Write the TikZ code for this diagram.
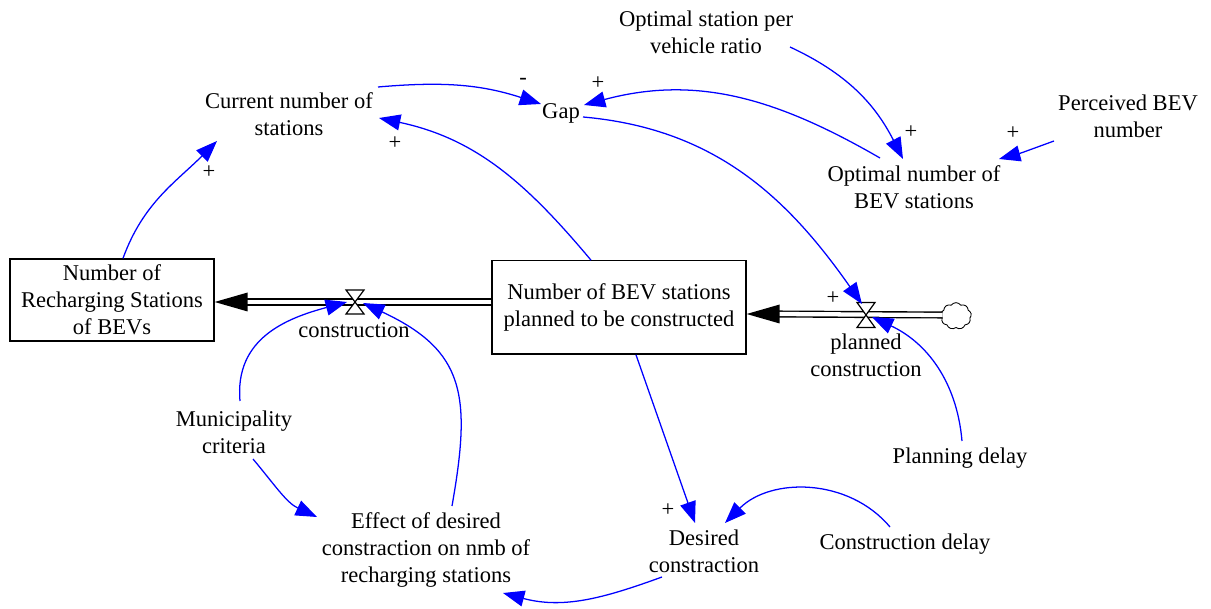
\documentclass[tikz,border=0pt]{standalone}
\usepackage{fontspec}
\setmainfont{Liberation Serif}
\usetikzlibrary{arrows.meta,shapes.symbols}

\tikzset{
  txt/.style={align=center, inner sep=0pt, font=\fontsize{16.9}{20.3}\selectfont},
  stock/.style={draw, line width=1pt, align=center, inner sep=0pt,
                font=\fontsize{16.9}{20.3}\selectfont},
  sgn/.style={inner sep=0pt, font=\fontsize{16.9}{20.3}\selectfont},
  link/.style={draw=blue, line width=0.95pt,
               -{Triangle[length=16pt,width=12pt]}},
  pipe/.style={draw, line width=1.05pt, double, double distance=3.2pt},
  valveshape/.style={draw, fill=white, line width=0.9pt, line join=miter},
  source/.style={draw, cloud, cloud puffs=9, cloud puff arc=110, aspect=1.15,
                 line width=0.65pt, minimum width=23pt, minimum height=20pt,
                 inner sep=0pt}
}

\begin{document}
\begin{tikzpicture}[x=0.75pt, y=0.75pt]
\useasboundingbox (0,0) rectangle (1211,-609);

% auxiliaries and stocks
\node[txt] (osv)  at (706,-32)   {Optimal station per\\vehicle ratio};
\node[txt] (cur)  at (289,-114)  {Current number of\\stations};
\node[txt] (gap)  at (561,-113)  {Gap};
\node[txt] (pbev) at (1128,-116) {Perceived BEV\\number};
\node[txt] (onb)  at (914,-187)  {Optimal number of\\BEV stations};
\node[stock, minimum width=153pt, minimum height=61.5pt] (nrs) at (112,-300)
  {Number of\\Recharging Stations\\of BEVs};
\node[stock, minimum width=190.5pt, minimum height=70pt] (nbp) at (619,-307.5)
  {Number of BEV stations\\planned to be constructed};
\node[txt] (mun)  at (234,-432)  {Municipality\\criteria};
\node[txt] (eff)  at (426,-550)  {Effect of desired\\constraction on nmb of\\recharging stations};
\node[txt] (des)  at (704,-551)  {Desired\\constraction};
\node[txt] (cdel) at (905,-544)  {Construction delay};
\node[txt] (pdel) at (960,-458)  {Planning delay};

% flows
\coordinate (vc) at (355,-302);
\coordinate (vp) at (866,-315);
\node[source] (src) at (956,-316) {};
\coordinate (vcL) at (nrs.east |- vc);
\coordinate (vcR) at (nbp.west |- vc);
\coordinate (vpL) at (nbp.east |- vp);
\coordinate (vpR) at (src.center -| src.west);

\draw[pipe] (vcR) -- ([shift={(30,0)}]vcL);
\fill (vcL) -- ++(33,9.5) -- ++(0,-19) -- cycle;
\draw[pipe] ([shift={(2,1)}]vpR) -- ([shift={(30,1)}]vpL);
\fill ([shift={(0,1)}]vpL) -- ++(33,9.5) -- ++(0,-19) -- cycle;

\draw[valveshape] ([shift={(-9,12)}]vc) -- ([shift={(9,12)}]vc)
  -- ([shift={(-9,-12)}]vc) -- ([shift={(9,-12)}]vc) -- cycle;
\draw[valveshape] ([shift={(-9,12.5)}]vp) -- ([shift={(9,12.5)}]vp)
  -- ([shift={(-9,-12.5)}]vp) -- ([shift={(9,-12.5)}]vp) -- cycle;

\node[txt] (lc) at (354,-330) {construction};
\node[txt] (lp) at (866,-355) {planned\\construction};

% causal links
\draw[link] ([shift={(89,27)}]cur.center) to[out=5,in=162] ([shift={(-20,9)}]gap.center);
\draw[link] ([shift={(-34,29)}]onb.center) to[out=150,in=15] ([shift={(23,8)}]gap.center);
\draw[link] ([shift={(22,-4)}]gap.center) to[out=-5,in=125] ([shift={(-4,11)}]vp);
\draw[link] ([shift={(84,-15)}]osv.center) to[out=-25,in=117] ([shift={(-11,28)}]onb.center);
\draw[link] ([shift={(-74,-25)}]pbev.center) to[out=200,in=15] ([shift={(85,28)}]onb.center);
\draw[link] ([shift={(-28,0)}]nbp.north) to[out=130,in=-12] ([shift={(90,-4)}]cur.center);
\draw[link] ([shift={(11,0)}]nrs.north) to[out=70,in=225] ([shift={(-72,-27)}]cur.center);
\draw[link] ([shift={(6,31)}]mun.center) to[out=95,in=195,looseness=1.1] ([shift={(-8,0)}]vc);
\draw[link] ([shift={(19,-27)}]mun.center) to[out=-50,in=155] ([shift={(-109,33)}]eff.center);
\draw[link] ([shift={(26,44)}]eff.center) to[out=80,in=-25,looseness=1.3] ([shift={(8,-1)}]vc);
\draw[link] ([shift={(17,0)}]nbp.south) -- ([shift={(-9,28)}]des.center);
\draw[link] ([shift={(-15,17)}]cdel.center) to[out=130,in=45] ([shift={(21,28)}]des.center);
\draw[link] ([shift={(-42,-26)}]des.center) to[out=200,in=-15] ([shift={(77,-43)}]eff.center);
\draw[link] ([shift={(2,17)}]pdel.center) to[out=95,in=-25] ([shift={(6,-2)}]vp);

% link polarities
\node[sgn] (s1) at (523,-81)  {-};
\node[sgn] (s2) at (598,-83)  {+};
\node[sgn] (s3) at (395,-143) {+};
\node[sgn] (s4) at (209,-172) {+};
\node[sgn] (s5) at (911,-132) {+};
\node[sgn] (s6) at (1013,-133) {+};
\node[sgn] (s7) at (833,-298) {+};
\node[sgn] (s8) at (668,-510) {+};
\end{tikzpicture}
\end{document}
